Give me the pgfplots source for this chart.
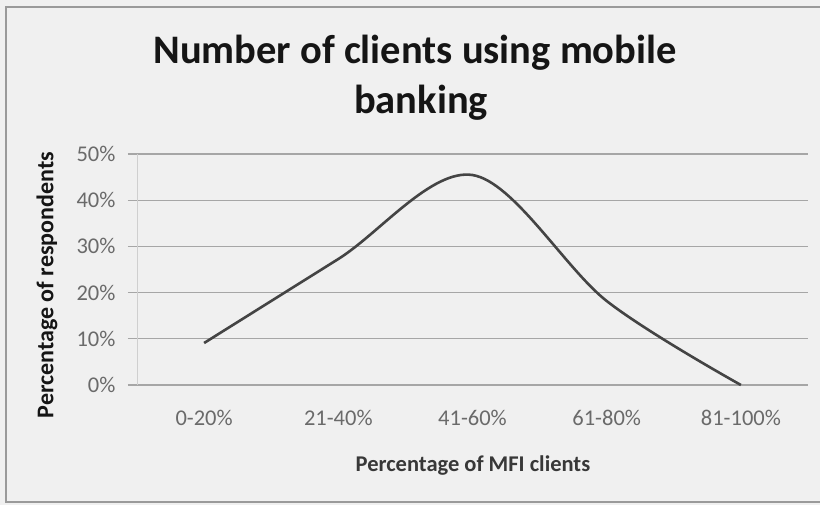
\documentclass[border=0pt]{standalone}
\usepackage{pgfplots}
\pgfplotsset{compat=1.18}
\usepackage{fontspec}
\setmainfont{Carlito}
\definecolor{bgc}{HTML}{F0F0F0}
\definecolor{gridc}{HTML}{A6A6A6}
\definecolor{faintc}{HTML}{CFCFCF}
\definecolor{tickc}{HTML}{6A6A6A}
\definecolor{linec}{HTML}{444444}
\definecolor{titlec}{HTML}{151515}
\definecolor{framec}{HTML}{9A9A9A}
\begin{document}
\begin{tikzpicture}
\path[use as bounding box, fill=bgc] (0,0) rectangle (820bp,-505bp);
\draw[framec, line width=1.2bp] (6bp,-7bp) rectangle (850bp,-502bp);
\begin{axis}[
  at={(137bp,-385bp)}, anchor=south west,
  scale only axis, width=671bp, height=231bp,
  xmin=-0.5, xmax=4.5, ymin=0, ymax=50,
  xtick={0,...,4},
  xticklabels={0-20\%,21-40\%,41-60\%,61-80\%,81-100\%},
  ytick={0,10,...,50},
  yticklabel={\pgfmathprintnumber{\tick}\%},
  ymajorgrids,
  major grid style={color=gridc, line width=1.2bp},
  axis x line*=bottom, axis y line*=left,
  axis line style={-},
  x axis line style={color=gridc, line width=1.2bp},
  y axis line style={color=faintc, line width=1bp},
  xtick style={draw=none},
  ytick style={color=gridc, line width=1.2bp},
  tick align=outside, major tick length=9bp,
  ticklabel style={font=\fontsize{22.5bp}{26bp}\selectfont, text=tickc},
  xticklabel style={yshift=-13bp},
  yticklabel style={xshift=-9bp},
  /pgf/number format/assume math mode=true,
  clip=false,
]
\addplot[color=linec, line width=2.6bp, smooth, tension=0.55] coordinates {(0,9.09) (1,27.27) (2,45.45) (3,18.18) (4,0)};
\end{axis}
\node[anchor=base, text=titlec, font=\fontsize{40.5bp}{48bp}\selectfont\bfseries] at (415bp,-63bp) {Number of clients using mobile};
\node[anchor=base, text=titlec, font=\fontsize{40.5bp}{48bp}\selectfont\bfseries] at (421bp,-113bp) {banking};
\node[rotate=90, text=titlec, font=\fontsize{24bp}{28bp}\selectfont\bfseries] at (47bp,-285bp) {Percentage of respondents};
\node[text=titlec!85, font=\fontsize{22.5bp}{26bp}\selectfont\bfseries] at (473bp,-466bp) {Percentage of MFI clients};
\end{tikzpicture}
\end{document}
